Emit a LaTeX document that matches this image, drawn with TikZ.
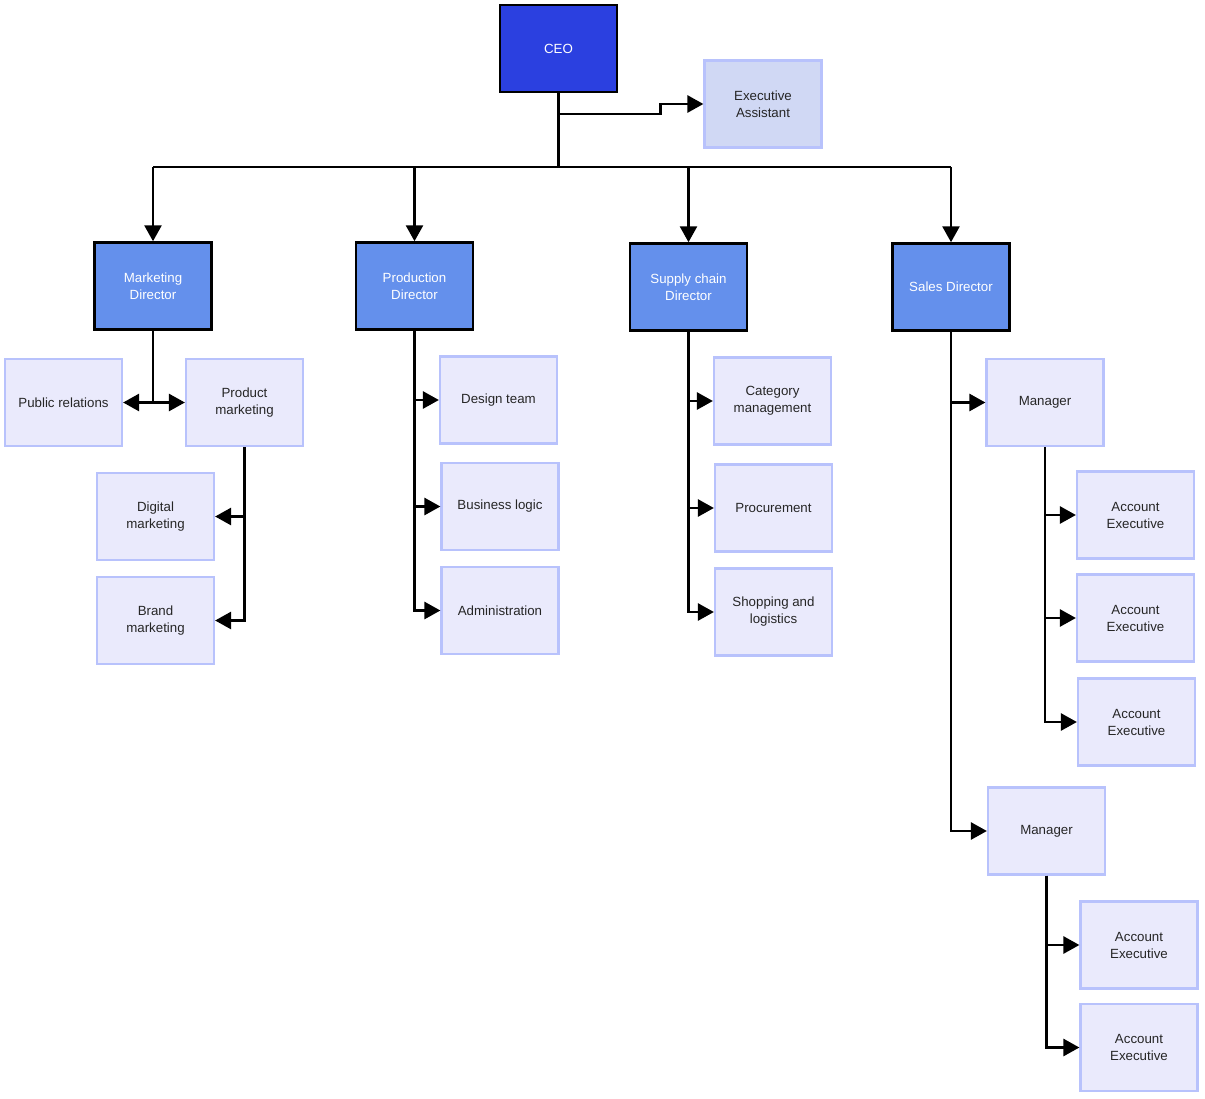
\documentclass[tikz,border=0pt]{standalone}
\usepackage{fontspec}
\setmainfont{Liberation Sans}
\usetikzlibrary{arrows.meta}
\definecolor{ceoblue}{RGB}{43,64,224}
\definecolor{dirblue}{RGB}{100,144,236}
\definecolor{assfill}{RGB}{208,216,244}
\definecolor{staffill}{RGB}{234,234,252}
\definecolor{stafline}{RGB}{184,194,252}

\begin{document}
\begin{tikzpicture}[x=1pt,y=-1pt,
    box/.style={rectangle,minimum width=117pt,minimum height=87pt,align=center,
        inner sep=2pt,font=\fontsize{13.3}{17}\selectfont},
    chief/.style={box,draw=black,line width=2.5pt,fill=ceoblue,text=white},
    director/.style={box,draw=black,line width=2.5pt,fill=dirblue,text=white},
    staff/.style={box,draw=stafline,line width=2.2pt,fill=staffill,text=black!85},
    helper/.style={staff,fill=assfill},
    link/.style={line width=2.7pt},
    arr/.style={link,-{Triangle[length=16pt,width=17pt]}}]
    \useasboundingbox (0,0) rectangle (1205,1098);

    % top
    \node [chief] (ceo) at (558.5,48.5) {CEO};
    \node [helper] (ea) at (763,104) {Executive\\Assistant};

    % directors
    \node [director] (md) at (153,286) {Marketing\\Director};
    \node [director] (pd) at (414.5,286) {Production\\Director};
    \node [director] (scd) at (688.5,287) {Supply chain\\Director};
    \node [director] (sd) at (951,287) {Sales Director};

    % marketing
    \node [staff] (pr) at (63.5,402.5) {Public relations};
    \node [staff] (pm) at (244.5,402.5) {Product\\marketing};
    \node [staff] (dm) at (155.5,516.5) {Digital\\marketing};
    \node [staff] (bm) at (155.5,620.5) {Brand\\marketing};

    % production
    \node [staff] (dt) at (498.5,400) {Design team};
    \node [staff] (bl) at (500,506.5) {Business logic};
    \node [staff] (adm) at (500,610.5) {Administration};

    % supply chain
    \node [staff] (cm) at (772.5,401) {Category\\management};
    \node [staff] (pc) at (773.5,508) {Procurement};
    \node [staff] (sl) at (773.5,612) {Shopping and\\logistics};

    % sales
    \node [staff] (mgr1) at (1045,402.5) {Manager};
    \node [staff] (ae1) at (1135.5,515) {Account\\Executive};
    \node [staff] (ae2) at (1135.5,618) {Account\\Executive};
    \node [staff] (ae3) at (1136.5,722) {Account\\Executive};
    \node [staff] (mgr2) at (1046.5,831) {Manager};
    \node [staff] (ae4) at (1139,945) {Account\\Executive};
    \node [staff] (ae5) at (1139,1047.5) {Account\\Executive};

    % connectors
    \coordinate (bus) at (558.5,167);
    \coordinate (eain) at (558.5,114);
    \draw [link] (ceo.south) -- (bus);
    \draw [arr] (eain) -- ++(102,0) |- (ea.west);
    \draw [link] (md.north |- bus) -- (sd.north |- bus);
    \foreach \d in {md,pd,scd,sd}
        \draw [arr] (\d.north |- bus) -- (\d.north);

    \draw [arr] (md.south) |- (pr.east);
    \draw [arr] (md.south) |- (pm.west);
    \draw [arr] (pm.south) |- (dm.east);
    \draw [arr] (pm.south) |- (bm.east);

    \foreach \s in {dt,bl,adm}
        \draw [arr] (pd.south) |- (\s.west);
    \foreach \s in {cm,pc,sl}
        \draw [arr] (scd.south) |- (\s.west);

    \foreach \s in {mgr1,mgr2}
        \draw [arr] (sd.south) |- (\s.west);
    \foreach \s in {ae1,ae2,ae3}
        \draw [arr] (mgr1.south) |- (\s.west);
    \foreach \s in {ae4,ae5}
        \draw [arr] (mgr2.south) |- (\s.west);
\end{tikzpicture}
\end{document}
